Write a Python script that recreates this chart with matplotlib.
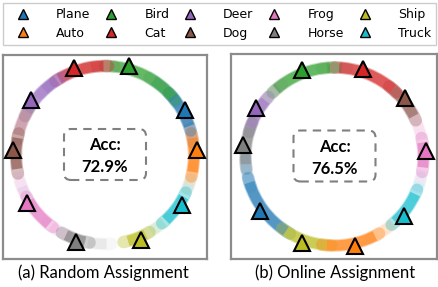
import numpy as np
import matplotlib
matplotlib.use("Agg")
import matplotlib.pyplot as plt
from matplotlib.patches import Arc, FancyBboxPatch
from matplotlib.lines import Line2D

classes = ["Plane", "Auto", "Bird", "Cat", "Deer", "Dog", "Frog", "Horse", "Ship", "Truck"]
colors = [plt.get_cmap("tab10")(i) for i in range(10)]

# prototype (triangle) angles in degrees, one per class
proto_a = [29.4, 3.1, 74.6, 109.4, 143.5, 176.9, -148.4, -108.2, -66.8, -32.7]
proto_b = [-143.9, -77.0, 110.6, 72.0, 148.2, 39.8, 3.4, 172.9, -110.7, -40.5]

# ring segments: start angle, end angle, class, opacity
seg_a_start = [-12, 10, 18, 38, 40, 86, 90, 118, 122, 150, 155, 168, 190, 200, 210, 232, 243, 258, 284, 296, 300, 312, 333, 340]
seg_a_end   = [12, 22, 42, 58, 88, 100, 122, 134, 152, 168, 168, 190, 210, 212, 232, 248, 258, 272, 298, 312, 312, 333, 342, 350]
seg_a_cls   = [1, 5, 0, 0, 2, 5, 3, 4, 4, 5, 6, 5, 6, 4, 6, 6, 7, 7, 8, 8, 9, 9, 9, 1]
seg_a_alpha = [0.9, 0.35, 0.85, 0.4, 0.8, 0.35, 0.85, 0.4, 0.75, 0.45, 0.2, 0.9, 0.15, 0.12, 0.8, 0.2, 0.85, 0.15, 0.9, 0.15, 0.1, 0.85, 0.2, 0.2]

seg_b_start = [-8, 10, 26, 48, 84, 92, 128, 140, 160, 184, 196, 236, 264, 296, 312, 336, 342]
seg_b_end   = [10, 28, 50, 88, 96, 132, 142, 162, 186, 198, 238, 266, 298, 312, 336, 344, 352]
seg_b_cls   = [6, 6, 5, 3, 5, 2, 7, 4, 7, 0, 0, 8, 1, 1, 9, 9, 6]
seg_b_alpha = [0.85, 0.2, 0.8, 0.85, 0.35, 0.8, 0.35, 0.8, 0.8, 0.3, 0.85, 0.85, 0.85, 0.2, 0.85, 0.15, 0.12]

acc_values = ["72.9%", "76.5%"]
captions = ["(a) Random Assignment", "(b) Online Assignment"]

W, H = 438, 287
fig = plt.figure(figsize=(W / 100, H / 100), dpi=100)


def panel(px0, px1, py0, py1, cx, cy, r, starts, ends, cls, alphas, protos, acc):
    # axes placed in pixel units, data coordinates = pixels (y up)
    ax = fig.add_axes([px0 / W, (H - py1) / H, (px1 - px0) / W, (py1 - py0) / H])
    ax.set_xlim(px0, px1)
    ax.set_ylim(H - py1, H - py0)
    ax.set_xticks([])
    ax.set_yticks([])
    for s in ax.spines.values():
        s.set_color("#8c8c8c")
        s.set_linewidth(1.6)
    cyu = H - cy
    for t1, t2, c, a in zip(starts, ends, cls, alphas):
        halo = Arc((cx, cyu), 2 * r, 2 * r, theta1=t1 - 2, theta2=t2 + 2,
                   lw=9.0, color=colors[c], alpha=a * 0.4)
        halo.set_capstyle("round")
        ax.add_patch(halo)
        ax.add_patch(Arc((cx, cyu), 2 * r, 2 * r, theta1=t1 + 1, theta2=t2 - 1,
                         lw=7.5, color=colors[c], alpha=a * 0.75))
    for i, ang in enumerate(protos):
        th = np.deg2rad(ang)
        ax.plot(cx + 92 * np.cos(th), cyu + 92 * np.sin(th), marker="^", ms=11,
                mfc=colors[i], mec="black", mew=1.5, zorder=5)
    ax.add_patch(FancyBboxPatch((cx - 41, cyu - 25), 82, 51,
                                boxstyle="round,pad=0,rounding_size=7",
                                fill=False, ec="#808080", lw=1.5, ls=(0, (4, 3))))
    ax.text(cx, cyu + 10, "Acc:", ha="center", va="center", fontsize=12,
            fontweight="bold", family="Lato")
    ax.text(cx, cyu - 12, acc, ha="center", va="center", fontsize=12,
            fontweight="bold", family="Lato")
    return ax


panel(3, 207, 55, 259, 105, 155, 89, seg_a_start, seg_a_end, seg_a_cls, seg_a_alpha, proto_a, acc_values[0])
panel(231, 437, 54, 259, 334.5, 156.5, 89, seg_b_start, seg_b_end, seg_b_cls, seg_b_alpha, proto_b, acc_values[1])

fig.text(103 / W, 1 - 273 / H, captions[0], ha="center", va="center", fontsize=12, family="Lato")
fig.text(335 / W, 1 - 273 / H, captions[1], ha="center", va="center", fontsize=12, family="Lato")

handles = [Line2D([], [], ls="none", marker="^", ms=7.5, mfc=colors[i], mec="black", mew=1.0)
           for i in range(10)]
fig.legend(handles, classes, ncol=5, loc="upper left", mode="expand",
           bbox_to_anchor=(3 / W, 1 - 42 / H, 433 / W, 39 / H),
           fontsize=9, handlelength=2.33, handletextpad=1.5, labelspacing=0.45,
           borderpad=0.4, borderaxespad=0, columnspacing=1.0, fancybox=False,
           edgecolor="#cccccc", framealpha=1)

fig.savefig("out.png", dpi=100)
